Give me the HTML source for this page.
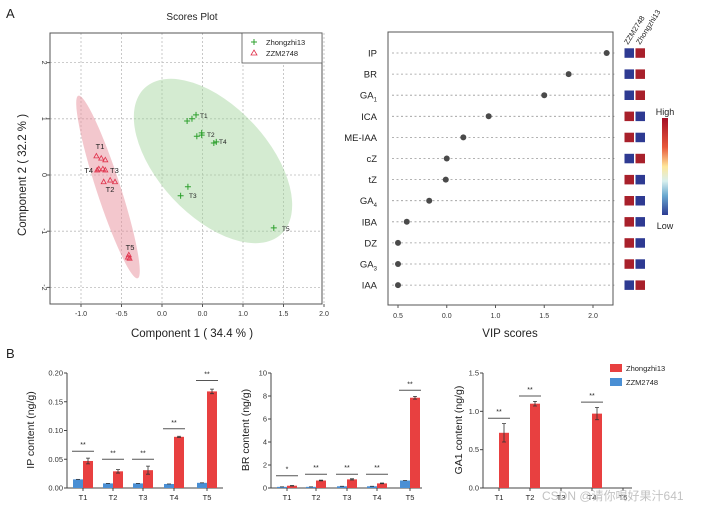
<!DOCTYPE html>
<html><head><meta charset="utf-8"><style>
html,body{margin:0;padding:0;background:#fff;}
svg{display:block;font-family:"Liberation Sans","Noto Sans CJK SC",sans-serif;}
</style></head><body>
<svg id="fig" width="704" height="509" viewBox="0 0 704 509"></svg>
<script>
// ---- data ----
const zhPts = [[0.31,0.96],[0.37,1.0],[0.42,1.07],[0.43,0.69],[0.49,0.71],[0.49,0.75],[0.64,0.57],[0.67,0.59],[0.32,-0.21],[0.23,-0.37],[1.38,-0.94]];
const zzPts = [[-0.81,0.34],[-0.75,0.30],[-0.70,0.27],[-0.80,0.09],[-0.78,0.11],[-0.73,0.11],[-0.70,0.09],[-0.72,-0.12],[-0.64,-0.09],[-0.58,-0.12],[-0.41,-1.42],[-0.40,-1.48],[-0.42,-1.46]];
const pcaXTicks = [-1.0,-0.5,0.0,0.5,1.0,1.5,2.0];
const pcaXLabels = ["-1.0","-0.5","0.0","0.0","1.0","1.5","2.0"];
const pcaYTicks = [2,1,0,-1,-2];
const vipNames = ["IP","BR","GA1","ICA","ME-IAA","cZ","tZ","GA4","IBA","DZ","GA3","IAA"];
const vipValues = [2.64,2.25,2.0,1.43,1.17,1.0,0.99,0.82,0.59,0.50,0.50,0.50];
const vipHeatZZM = ["B","B","B","R","R","B","R","R","R","R","R","B"];
const vipHeatZh = ["R","R","R","B","B","R","B","B","B","B","B","R"];
const vipTicks = [0.5,1.0,1.5,2.0,2.5];
const vipTickLabels = ["0.5","0.0","1.0","1.5","2.0"];
const cats = ["T1","T2","T3","T4","T5"];
const ipBlue = [0.015,0.008,0.008,0.007,0.009];
const ipRed = [0.047,0.029,0.031,0.089,0.168];
const ipRedErr = [0.005,0.003,0.007,0.001,0.004];
const ipSig = [0.064,0.05,0.05,0.103,0.187];
const ipSigText = ["**","**","**","**","**"];
const brBlue = [0.1,0.1,0.15,0.15,0.65];
const brRed = [0.2,0.65,0.75,0.4,7.85];
const brRedErr = [0.02,0.03,0.05,0.03,0.12];
const brSig = [1.07,1.2,1.2,1.2,8.5];
const brSigText = ["*","**","**","**","**"];
const gaBlue = [0,0,0,0,0];
const gaRed = [0.72,1.1,0,0.97,0];
const gaRedErr = [0.12,0.03,0,0.08,0];
const gaSig = [0.91,1.2,null,1.12,null];
const gaSigText = ["**","**","","**",""];

const svg = document.getElementById('fig');
const NS = "http://www.w3.org/2000/svg";
function mk(tag, attrs, parent, text){
  const e = document.createElementNS(NS, tag);
  for (const k in attrs) e.setAttribute(k, attrs[k]);
  if (text !== undefined) e.textContent = text;
  (parent || svg).appendChild(e);
  return e;
}
// ---- Panel A: Scores plot ----
const sx = v => 162 + v*81;
const sy = v => 175 - v*56.2;
let t;
t = mk('text',{x:6,y:18,'font-size':13,fill:'#222'},null,'A');
 
t = mk('text',{x:192,y:20,'font-size':10,'text-anchor':'middle',fill:'#222'},null,'Scores Plot');
 
// grid
pcaXTicks.forEach(v=>{ const l=mk('line',{x1:sx(v),x2:sx(v),y1:33,y2:304,stroke:'#bbb','stroke-dasharray':'2,2','stroke-width':0.8});
    });
pcaYTicks.forEach(v=>{ const l=mk('line',{x1:50,x2:322,y1:sy(v),y2:sy(v),stroke:'#bbb','stroke-dasharray':'2,2','stroke-width':0.8});
    });
// ellipses
let el = mk('ellipse',{cx:213,cy:161,rx:100,ry:55,fill:'#9fd39a','fill-opacity':0.45,transform:'rotate(47 213 161)'});
 
el = mk('ellipse',{cx:108,cy:187,rx:96,ry:12,fill:'#e8909c','fill-opacity':0.5,transform:'rotate(72 108 187)'});
 
// points
zhPts.forEach(p=>{ const g=mk('path',{d:`M${sx(p[0])-3},${sy(p[1])}h6M${sx(p[0])},${sy(p[1])-3}v6`,stroke:'#2ca02c','stroke-width':1});
    });
zzPts.forEach(p=>{ const x=sx(p[0]),y=sy(p[1]); const g=mk('path',{d:`M${x},${y-2.5}L${x+2.5},${y+2}L${x-2.5},${y+2}Z`,fill:'none',stroke:'#e0304a','stroke-width':0.8});
    });
[[200,118,'T1','start'],[207,137,'T2','start'],[219,144,'T4','start'],[189,198,'T3','start'],[282,231,'T5','start'],
 [100,149,'T1','middle'],[93,173,'T4','end'],[110,173,'T3','start'],[110,192,'T2','middle'],[130,250,'T5','middle']].forEach(a=>{
  const tt=mk('text',{x:a[0],y:a[1],'font-size':a[0]>150?6.5:7.5,'text-anchor':a[3],fill:'#222'},null,a[2]);
    });
let r = mk('rect',{x:50,y:33,width:272,height:271,fill:'none',stroke:'#555','stroke-width':1});
 
pcaXTicks.forEach((v,i)=>{ mk('line',{x1:sx(v),x2:sx(v),y1:304,y2:307,stroke:'#555'});
  const tt=mk('text',{x:sx(v),y:316,'font-size':7,'text-anchor':'middle',fill:'#333'},null,pcaXLabels[i]);
    });
pcaYTicks.forEach(v=>{ mk('line',{x1:47,x2:50,y1:sy(v),y2:sy(v),stroke:'#555'});
  const tt=mk('text',{x:42,y:sy(v),'font-size':7,'text-anchor':'middle',fill:'#333',transform:`rotate(90 42 ${sy(v)})`},null,String(v));
    });
t = mk('text',{x:192,y:337,'font-size':11.5,'text-anchor':'middle',fill:'#222'},null,'Component 1 ( 34.4 % )');
 
t = mk('text',{x:26,y:175,'font-size':11.5,'text-anchor':'middle',fill:'#222',transform:'rotate(-90 26 175)'},null,'Component 2 ( 32.2 % )');
 
// legend
r = mk('rect',{x:242,y:33,width:80,height:30,fill:'#fff',stroke:'#555','stroke-width':0.8});
 
mk('path',{d:'M251,42h6M254,39v6',stroke:'#2ca02c'});
t=mk('text',{x:266,y:45,'font-size':7.5,fill:'#222'},null,'Zhongzhi13');
 
mk('path',{d:'M254,50L257,55L251,55Z',fill:'none',stroke:'#e0304a','stroke-width':0.8});
t=mk('text',{x:266,y:56,'font-size':7.5,fill:'#222'},null,'ZZM2748');
 

// ---- VIP plot ----
const vx = v => 398 + (v-0.5)*97.5;
const vy = i => 53 + i*21.1;
vipNames.forEach((n,i)=>{
  const l=mk('line',{x1:392,x2:615,y1:vy(i),y2:vy(i),stroke:'#999','stroke-dasharray':'2,2.5','stroke-width':0.8});
   
  const sub = n.match(/^GA(\d)$/);
  const tt=mk('text',{x:377,y:vy(i)+3.5,'font-size':9.5,'text-anchor':'end',fill:'#222'},null, sub?'GA':n);
  if (sub){ mk('tspan',{'font-size':6,dy:3},tt,sub[1]); }
   
  const c=mk('circle',{cx:vx(vipValues[i]),cy:vy(i),r:3,fill:'#4a4a4a'});
   
  const col = k => k==='R' ? '#a8202b' : '#2e3a92';
  let s=mk('rect',{x:624.5,y:vy(i)-4.7,width:9.5,height:9.5,fill:col(vipHeatZZM[i])});
   
  s=mk('rect',{x:635.5,y:vy(i)-4.7,width:9.5,height:9.5,fill:col(vipHeatZh[i])});
   
});
r = mk('rect',{x:388,y:32,width:225,height:273,fill:'none',stroke:'#555','stroke-width':1});
 
vipTicks.forEach((v,i)=>{ mk('line',{x1:vx(v),x2:vx(v),y1:305,y2:308,stroke:'#555'});
  const tt=mk('text',{x:vx(v),y:318,'font-size':7,'text-anchor':'middle',fill:'#333'},null,vipTickLabels[i]);
    });
t = mk('text',{x:510,y:337,'font-size':11.5,'text-anchor':'middle',fill:'#222'},null,'VIP scores');
 
t = mk('text',{x:628,y:45,'font-size':7.5,fill:'#222',transform:'rotate(-58 628 45)'},null,'ZZM2748');
 
t = mk('text',{x:640,y:45,'font-size':7.5,fill:'#222',transform:'rotate(-58 640 45)'},null,'Zhongzhi13');
 
const defs = mk('defs',{});
const grad = mk('linearGradient',{id:'cb',x1:0,y1:0,x2:0,y2:1},defs);
[['0','#a50f26'],['0.3','#e8583a'],['0.5','#fee79a'],['0.65','#d9f0ee'],['0.8','#6aa9d0'],['1','#2c3b92']].forEach(s=>mk('stop',{offset:s[0],'stop-color':s[1]},grad));
r = mk('rect',{x:662,y:118,width:6,height:97,fill:'url(#cb)'});
 
t = mk('text',{x:665,y:115,'font-size':9,'text-anchor':'middle',fill:'#222'},null,'High');
 
t = mk('text',{x:665,y:229,'font-size':9,'text-anchor':'middle',fill:'#222'},null,'Low');
 

// ---- Panel B bar charts ----
t = mk('text',{x:6,y:358,'font-size':13,fill:'#222'},null,'B');
 
const RED='#e84040', BLUE='#4a8fd4';
function barChart(o){
  const y = v => 488 - v/o.max*115;
  const g = mk('g',{});
   
  mk('line',{x1:o.ax,x2:o.ax,y1:373,y2:488,stroke:'#444','stroke-width':1},g);
  mk('line',{x1:o.ax,x2:o.xend,y1:488,y2:488,stroke:'#444','stroke-width':1},g);
  o.ticks.forEach((v,i)=>{ mk('line',{x1:o.ax-3,x2:o.ax,y1:y(v),y2:y(v),stroke:'#444'},g);
    const tt=mk('text',{x:o.ax-4,y:y(v)+2.5,'font-size':7.5,'text-anchor':'end',fill:'#333'},g,o.tickLabels[i]);
      });
  cats.forEach((c,i)=>{
    const cx=o.cx[i];
    mk('line',{x1:cx,x2:cx,y1:488,y2:491,stroke:'#444'},g);
    const tt=mk('text',{x:cx,y:500,'font-size':7.5,'text-anchor':'middle',fill:'#222'},g,c);
     
    if (o.blue[i]>0){ const b=mk('rect',{x:cx-10,y:y(o.blue[i]),width:10,height:488-y(o.blue[i]),fill:BLUE},g);
       
      mk('line',{x1:cx-7,x2:cx-3,y1:y(o.blue[i]),y2:y(o.blue[i]),stroke:'#333','stroke-width':0.8},g); }
    if (o.red[i]>0){ const b=mk('rect',{x:cx,y:y(o.red[i]),width:10,height:488-y(o.red[i]),fill:RED},g);
       
      const e=o.err[i], top=y(o.red[i]+e), bot=y(o.red[i]-e);
      const eb=mk('path',{d:`M${cx+5},${top}V${bot}M${cx+3},${top}h4M${cx+3},${bot}h4`,stroke:'#333','stroke-width':0.8,fill:'none'},g);
        }
    if (o.sig[i]!==null){ const sl=mk('line',{x1:cx-11,x2:cx+11,y1:y(o.sig[i]),y2:y(o.sig[i]),stroke:'#555','stroke-width':1},g);
       
      const st=mk('text',{x:cx,y:y(o.sig[i])-4,'font-size':7,'text-anchor':'middle',fill:'#222'},g,o.sigText[i]);
        }
  });
  const yt=mk('text',{x:o.tx,y:430,'font-size':10.5,'text-anchor':'middle',fill:'#222',transform:`rotate(-90 ${o.tx} 430)`},g,o.title);
   
}
barChart({name:'ip-content-chart',ax:67,xend:223,cx:[83,113,143,174,207],max:0.2,ticks:[0,0.05,0.1,0.15,0.2],tickLabels:["0.00","0.05","0.10","0.15","0.20"],blue:ipBlue,red:ipRed,err:ipRedErr,sig:ipSig,sigText:ipSigText,title:'IP content (ng/g)',tx:34});
barChart({name:'br-content-chart',ax:271,xend:422,cx:[287,316,347,377,410],max:10,ticks:[0,2,4,6,8,10],tickLabels:["0","2","4","6","8","10"],blue:brBlue,red:brRed,err:brRedErr,sig:brSig,sigText:brSigText,title:'BR content (ng/g)',tx:249});
barChart({name:'ga1-content-chart',ax:483,xend:632,cx:[499,530,561,592,623],max:1.5,ticks:[0,0.5,1.0,1.5],tickLabels:["0.0","0.5","1.0","1.5"],blue:gaBlue,red:gaRed,err:gaRedErr,sig:gaSig,sigText:gaSigText,title:'GA1 content (ng/g)',tx:462});
r=mk('rect',{x:610,y:364,width:12,height:8,fill:RED});  
t=mk('text',{x:626,y:371,'font-size':7.5,fill:'#222'},null,'Zhongzhi13');  
r=mk('rect',{x:610,y:378,width:12,height:8,fill:BLUE});  
t=mk('text',{x:626,y:385,'font-size':7.5,fill:'#222'},null,'ZZM2748');  
t=mk('text',{x:542,y:500,'font-size':12,fill:'#bbb','fill-opacity':0.9},null,'CSDN @请你喝好果汁641');
 
</script>
</body></html>
